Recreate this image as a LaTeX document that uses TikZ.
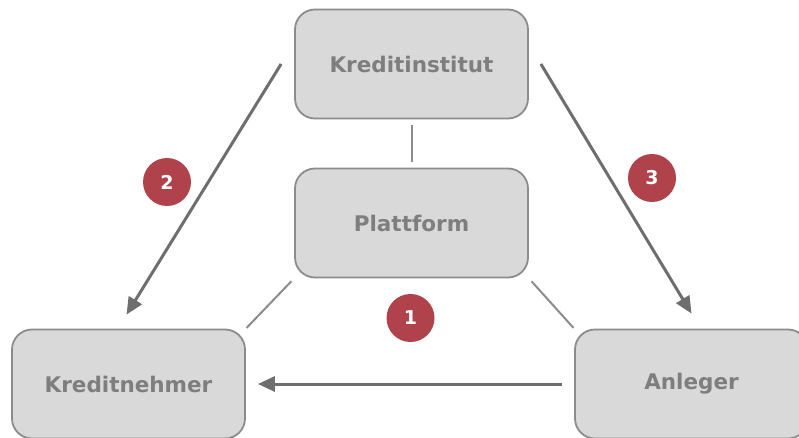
\documentclass[tikz,border=0pt]{standalone}
\usepackage{fontspec}
\setmainfont{DejaVu Sans}
\usetikzlibrary{arrows.meta}
\definecolor{boxfill}{HTML}{D9D9D9}
\definecolor{boxline}{HTML}{8C8C8C}
\definecolor{boxtext}{HTML}{7E7E7E}
\definecolor{arrowgray}{HTML}{6E6E6E}
\definecolor{badgered}{HTML}{B0424C}
\begin{document}
\begin{tikzpicture}[x=1pt,y=-1pt,
		party/.style={draw=boxline, line width=1.8pt, fill=boxfill, rounded corners=20pt,
			minimum width=233pt, minimum height=109pt, inner sep=0pt,
			text=boxtext, font=\fontsize{21.5}{25}\selectfont\bfseries},
		badge/.style={circle, fill=badgered, minimum size=48pt, inner sep=0pt,
			text=white, font=\fontsize{19}{22}\selectfont\bfseries},
		link/.style={draw=boxline, line width=2pt},
		flow/.style={draw=arrowgray, line width=3pt, -{Triangle[length=17pt,width=15pt]}}]
	\useasboundingbox (0,0) rectangle (799,438);
	
	\node [party] (ki) at (411.5,64) {Kreditinstitut};
	\node [party] (pf) at (411.5,223) {Plattform};
	\node [party] (kn) at (128.5,384) {Kreditnehmer};
	\node [party] (an) at (691.5,384) {Anleger};
	
	\draw [link, shorten <=6pt, shorten >=6pt] (ki) -- (pf);
	\draw [link, shorten <=4pt, shorten >=1pt] (pf.south west) -- (kn.north east);
	\draw [link, shorten <=4pt, shorten >=1pt] (pf.south east) -- (an.north west);
	
	\draw [flow] ([xshift=-13pt]ki.west) -- ([xshift=-2pt,yshift=14pt]kn.north);
	\draw [flow] ([xshift=12pt]ki.east) -- ([yshift=15pt]an.north);
	\draw [flow, shorten <=12pt, shorten >=12pt] (an.west) -- (kn.east);
	
	\node [badge] (b2) at (167,182) {2};
	\node [badge] (b3) at (652,178) {3};
	\node [badge] (b1) at (410.5,318) {1};
\end{tikzpicture}
\end{document}
